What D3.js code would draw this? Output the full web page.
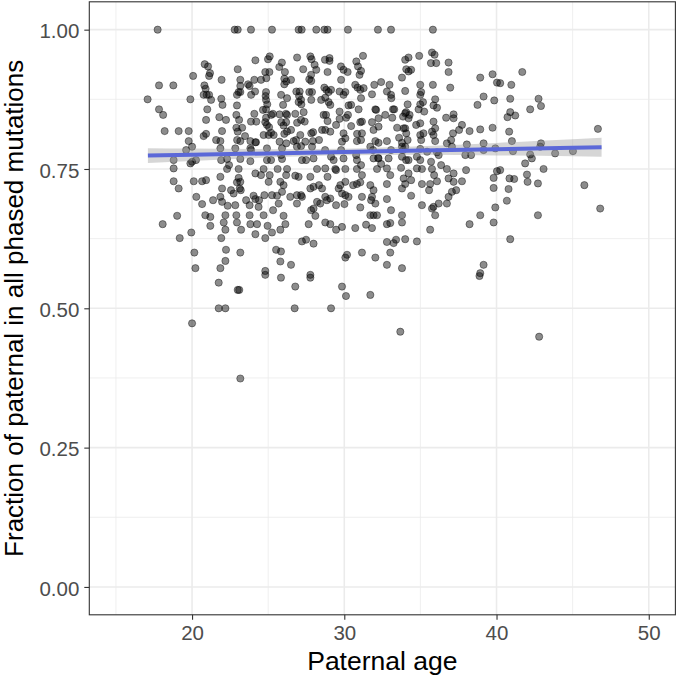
<!DOCTYPE html>
<html>
<head>
<meta charset="utf-8">
<script src="https://cdn.jsdelivr.net/npm/d3@7"></script>
<style>
  body { margin: 0; background: #fff; }
  svg text { font-family: "Liberation Sans", Arial, Helvetica, sans-serif; }
</style>
</head>
<body>
<div id="chart"></div>
<script>
// paternal age (years) of each trio
var paternalAge = [
17.74,22.80,23.00,23.87,25.25,27.00,27.20,28.16,24.16,24.99,25.10,25.90,26.90,27.77,27.85,20.83,21.05,23.00,25.73,27.30,
28.05,28.16,21.18,21.12,20.07,24.81,25.08,24.88,26.10,26.06,27.70,27.83,21.94,23.17,24.09,17.83,18.77,20.81,20.89,23.17,
23.17,23.68,23.78,24.14,24.86,24.83,26.06,26.19,26.85,27.07,27.03,27.70,27.88,27.83,17.08,19.89,20.76,20.96,21.12,21.92,
22.00,22.95,23.06,24.86,24.94,26.24,25.98,27.00,27.18,17.83,18.10,21.00,22.95,21.79,22.91,24.09,23.87,24.22,24.86,24.81,
24.92,25.20,25.31,25.75,25.86,26.01,26.17,26.24,26.78,26.90,27.33,27.40,22.91,23.00,18.20,19.12,19.78,20.92,20.76,21.97,
19.78,21.86,23.17,23.83,24.16,24.70,25.03,25.36,26.06,26.24,25.75,26.19,26.67,27.11,27.44,27.83,27.94,
28.69,28.90,30.24,32.21,33.07,35.82,28.73,29.03,29.03,30.79,30.90,31.23,29.78,29.95,30.22,28.90,31.00,31.10,34.00,34.22,
34.92,35.76,35.93,35.69,36.04,36.85,34.07,34.22,33.79,36.85,38.93,39.74,40.03,28.69,28.82,28.97,29.69,29.95,30.07,30.72,
30.87,31.05,31.27,31.97,31.82,32.97,32.80,33.09,34.00,34.99,34.99,35.82,36.96,28.75,28.97,29.08,30.28,30.94,32.04,32.69,
33.20,34.16,34.00,34.29,34.99,34.88,35.17,35.25,35.97,36.09,35.86,38.75,39.15,39.85,28.64,28.90,28.75,29.69,29.69,30.24,
31.05,31.16,31.82,32.25,32.25,33.15,33.28,33.86,34.00,34.22,34.99,35.86,35.97,35.76,35.86,37.18,37.18,37.73,38.23,38.93,
39.74,37.14,28.54,29.08,29.95,30.07,29.85,30.83,31.16,31.92,32.04,32.25,32.80,33.90,34.07,34.16,33.79,34.99,35.20,35.97,
36.74,38.05,39.15,
41.69,40.24,40.97,40.90,42.76,42.92,42.21,40.90,40.72,41.23,40.83,46.66,41.01,42.92,
20.00,21.86,22.84,23.83,24.92,25.91,26.89,27.88,18.79,20.00,19.89,22.30,23.17,23.83,24.92,25.91,27.22,27.98,18.79,22.30,
23.06,24.16,24.70,25.10,25.62,26.24,26.78,27.00,27.77,28.21,21.86,23.06,22.95,18.79,19.12,20.11,20.66,25.03,25.80,26.01,
25.91,25.58,23.17,23.13,21.97,21.86,21.97,22.34,20.28,20.66,24.04,24.16,24.75,25.25,25.69,26.45,26.89,27.22,26.89,27.77,
27.98,28.21,22.73,23.20,22.84,23.78,24.37,19.02,20.87,21.20,22.19,22.91,23.78,24.70,26.01,18.07,21.20,22.08,22.19,22.95,
23.83,24.27,24.96,25.25,25.80,26.13,27.66,28.10,27.98,19.19,19.95,21.92,24.16,24.81,27.22,27.98,20.15,23.17,25.84,25.80,
22.19,21.86,20.22,24.81,27.77,
31.71,33.79,34.00,34.99,36.09,37.07,37.95,39.15,39.92,29.30,29.95,30.83,31.92,32.25,32.91,33.79,34.22,34.77,34.99,36.20,
28.75,28.90,29.41,30.07,30.83,31.16,32.15,32.80,33.02,33.90,34.22,34.77,35.10,35.76,36.74,37.18,37.73,39.81,40.03,29.74,
30.07,30.83,31.05,31.71,32.80,34.00,33.79,35.10,35.64,36.09,36.85,37.18,39.81,28.54,28.75,29.08,29.63,29.85,30.07,30.28,
31.16,31.92,31.82,32.04,32.80,35.10,35.86,36.20,36.74,36.85,37.07,39.92,28.42,28.86,30.01,31.05,31.71,31.92,32.15,33.79,
35.76,35.97,38.93,39.81,28.75,29.08,29.85,30.72,31.82,32.80,33.02,33.79,35.64,38.23,32.80,33.24,34.00,34.77,31.16,30.07,
30.18,32.04,33.02,32.80,33.79,39.15,38.93,
41.08,42.21,42.32,42.87,43.85,45.02,41.88,43.09,40.24,42.00,40.85,41.16,42.04,42.72,40.79,40.68,42.72,40.90,45.77,46.81,
21.75,23.00,23.10,21.75,22.19,20.00,23.17,25.84,26.78,26.74,27.77,24.81,29.85,30.11,31.71,29.13,33.68,38.88,42.80
];

// fraction of paternal among phased mutations, same order as paternalAge
var paternalFrac = [
1.000,1.000,1.000,1.000,1.000,1.000,1.000,1.000,0.945,0.947,0.952,0.941,0.950,0.952,0.947,0.938,0.934,0.929,0.933,0.929,
0.937,0.928,0.922,0.917,0.917,0.924,0.924,0.913,0.924,0.912,0.911,0.908,0.910,0.910,0.910,0.900,0.900,0.900,0.894,0.899,
0.888,0.902,0.899,0.889,0.888,0.881,0.902,0.907,0.889,0.889,0.881,0.888,0.888,0.874,0.875,0.875,0.883,0.883,0.883,0.876,
0.865,0.883,0.888,0.874,0.866,0.877,0.865,0.870,0.866,0.857,0.847,0.857,0.864,0.843,0.847,0.849,0.835,0.835,0.857,0.834,
0.829,0.847,0.849,0.848,0.834,0.828,0.849,0.847,0.849,0.833,0.852,0.835,0.824,0.817,0.818,0.818,0.818,0.813,0.809,0.818,
0.800,0.800,0.800,0.800,0.798,0.811,0.811,0.811,0.813,0.817,0.799,0.796,0.800,0.811,0.799,0.814,0.800,
1.000,1.000,1.000,1.000,1.000,1.000,0.946,0.949,0.944,0.943,0.934,0.953,0.934,0.928,0.924,0.924,0.919,0.926,0.946,0.950,
0.953,0.959,0.955,0.940,0.940,0.941,0.929,0.925,0.914,0.924,0.914,0.920,0.905,0.896,0.892,0.888,0.889,0.883,0.888,0.901,
0.896,0.892,0.895,0.901,0.884,0.901,0.889,0.877,0.890,0.901,0.883,0.901,0.896,0.878,0.870,0.865,0.864,0.857,0.857,0.847,
0.857,0.866,0.850,0.847,0.866,0.857,0.870,0.853,0.875,0.860,0.864,0.865,0.880,0.873,0.847,0.836,0.820,0.853,0.840,0.847,
0.834,0.835,0.834,0.841,0.826,0.842,0.857,0.844,0.823,0.841,0.832,0.835,0.823,0.817,0.811,0.848,0.841,0.829,0.818,0.821,
0.824,0.814,0.820,0.817,0.814,0.805,0.799,0.800,0.814,0.820,0.800,0.797,0.800,0.823,0.814,0.802,0.797,0.811,0.814,0.800,
0.796,0.794,0.796,
0.924,0.904,0.901,0.876,0.876,0.863,0.857,0.852,0.843,0.846,0.817,0.822,0.800,0.796,
0.790,0.787,0.787,0.787,0.787,0.787,0.790,0.790,0.766,0.763,0.760,0.768,0.768,0.764,0.766,0.768,0.766,0.769,0.751,0.750,
0.750,0.742,0.750,0.739,0.750,0.750,0.738,0.736,0.736,0.750,0.736,0.734,0.726,0.728,0.715,0.728,0.728,0.727,0.727,0.721,
0.709,0.702,0.727,0.715,0.715,0.700,0.691,0.684,0.700,0.687,0.702,0.696,0.703,0.703,0.688,0.700,0.703,0.700,0.688,0.715,
0.718,0.691,0.706,0.712,0.685,0.685,0.682,0.666,0.667,0.664,0.667,0.667,0.667,0.667,0.666,0.651,0.648,0.654,0.641,0.654,
0.651,0.651,0.648,0.636,0.641,0.651,0.651,0.666,0.679,0.626,0.636,0.626,0.633,0.626,0.620,0.616,0.600,0.600,0.602,0.584,
0.585,0.572,0.572,0.567,0.560,
0.790,0.790,0.790,0.786,0.780,0.790,0.775,0.784,0.787,0.766,0.769,0.766,0.769,0.769,0.769,0.772,0.766,0.772,0.766,0.775,
0.751,0.736,0.750,0.750,0.750,0.739,0.750,0.751,0.739,0.733,0.742,0.751,0.750,0.750,0.750,0.742,0.728,0.734,0.746,0.721,
0.727,0.723,0.726,0.721,0.723,0.723,0.715,0.723,0.723,0.728,0.733,0.727,0.716,0.715,0.700,0.697,0.715,0.706,0.703,0.700,
0.700,0.712,0.700,0.688,0.696,0.685,0.682,0.688,0.688,0.700,0.709,0.681,0.688,0.694,0.687,0.681,0.667,0.667,0.667,0.667,
0.679,0.667,0.667,0.654,0.654,0.651,0.646,0.644,0.644,0.651,0.653,0.654,0.641,0.651,0.619,0.617,0.624,0.620,0.600,0.591,
0.596,0.591,0.600,0.578,0.572,0.578,0.563,
0.782,0.776,0.769,0.790,0.778,0.782,0.760,0.750,0.748,0.740,0.733,0.732,0.727,0.724,0.714,0.693,0.667,0.624,0.721,0.679,
0.546,0.533,0.533,0.500,0.500,0.473,0.374,0.555,0.539,0.500,0.555,0.560,0.539,0.522,0.524,0.500,0.458,0.558,0.449
];

// points hidden in the darkest overlaps of the core, estimated
var denseAge = [
23.09,23.29,23.48,22.96,24.66,24.86,25.06,25.19,26.18,26.50,26.83,27.16,27.95,28.34,28.74,29.13,30.12,30.45,30.84,31.10,
31.89,32.22,32.42,33.47,33.60,33.86,34.06,33.73,35.44,35.70,35.90,35.57,21.91,22.43,23.88,24.20,25.85,27.49,29.79,31.10,
33.07,34.39,35.05,36.36,24.40,25.32,27.16,28.34,29.46,30.58,31.76,33.07,34.39,22.56,23.55,24.53,26.18,27.82,23.22,25.52,
27.49,29.46,31.43,33.40,22.23,26.50,23.88,25.85,27.16,29.13,31.10,33.07,35.05,24.53,27.82,29.79,32.42,34.39,22.23,21.58,
20.92,21.25,30.45,32.09,34.06,34.72,36.69,37.02,37.54,38.00,38.33,37.35,27.16,28.80,29.46,26.50,28.48,25.19,29.46,30.78,
20.92,21.38,20.26,19.61
];
var denseFrac = [
0.838,0.824,0.809,0.802,0.856,0.842,0.825,0.815,0.834,0.820,0.802,0.791,0.816,0.802,0.784,0.772,0.842,0.827,0.813,0.802,
0.784,0.770,0.759,0.824,0.806,0.784,0.766,0.752,0.781,0.763,0.739,0.712,0.766,0.757,0.784,0.798,0.775,0.766,0.784,0.757,
0.784,0.730,0.802,0.757,0.694,0.676,0.703,0.721,0.685,0.721,0.694,0.676,0.702,0.712,0.694,0.739,0.739,0.676,0.641,0.605,
0.623,0.641,0.650,0.623,0.605,0.578,0.883,0.883,0.874,0.892,0.877,0.883,0.888,0.910,0.919,0.910,0.906,0.928,0.838,0.802,
0.838,0.874,0.865,0.856,0.852,0.829,0.842,0.802,0.820,0.748,0.775,0.712,0.838,0.847,0.829,0.910,0.874,0.766,0.748,0.775,
0.730,0.694,0.766,0.784
];

// linear fit and its confidence band
var fitAge  = [17.1, 20, 25, 30, 35, 40, 45, 46.9];
var fitMid  = [0.7740, 0.7755, 0.7780, 0.7805, 0.7830, 0.7855, 0.7880, 0.7890];
var fitLow  = [0.7606, 0.7643, 0.7704, 0.7745, 0.7754, 0.7743, 0.7727, 0.7720];
var fitHigh = [0.7874, 0.7867, 0.7856, 0.7865, 0.7906, 0.7967, 0.8033, 0.8060];

var xTicks = [20, 30, 40, 50], xMinor = [15, 25, 35, 45];
var yTicks = [0, 0.25, 0.5, 0.75, 1], yMinor = [0.125, 0.375, 0.625, 0.875];

var W = 677, H = 678;
var margin = {top: 1.8, right: 1.6, bottom: 63.2, left: 89.3};
var width = W - margin.left - margin.right,
    height = H - margin.top - margin.bottom;

var allAge = paternalAge.concat(denseAge),
    allFrac = paternalFrac.concat(denseFrac);

var svg = d3.select("#chart").append("svg")
  .attr("width", W).attr("height", H);

var g = svg.append("g")
  .attr("transform", "translate(" + margin.left + "," + margin.top + ")");

var xScale = d3.scaleLinear().domain([13.25, 51.75]).range([0, width]);
var yScale = d3.scaleLinear().domain([-0.05, 1.05]).range([height, 0]);

// grid
g.selectAll(".xminor").data(xMinor).enter().append("line")
  .attr("x1", xScale).attr("x2", xScale).attr("y1", 0).attr("y2", height)
  .attr("stroke", "#EBEBEB").attr("stroke-width", 0.8);
g.selectAll(".yminor").data(yMinor).enter().append("line")
  .attr("y1", yScale).attr("y2", yScale).attr("x1", 0).attr("x2", width)
  .attr("stroke", "#EBEBEB").attr("stroke-width", 0.8);
g.selectAll(".xmajor").data(xTicks).enter().append("line")
  .attr("x1", xScale).attr("x2", xScale).attr("y1", 0).attr("y2", height)
  .attr("stroke", "#EBEBEB").attr("stroke-width", 1.6);
g.selectAll(".ymajor").data(yTicks).enter().append("line")
  .attr("y1", yScale).attr("y2", yScale).attr("x1", 0).attr("x2", width)
  .attr("stroke", "#EBEBEB").attr("stroke-width", 1.6);

// points
g.append("g").selectAll("circle")
  .data(allAge)
  .enter().append("circle")
  .attr("cx", function (d) { return xScale(d); })
  .attr("cy", function (d, i) { return yScale(allFrac[i]); })
  .attr("r", 3.6)
  .attr("fill", "#000").attr("fill-opacity", 0.45)
  .attr("stroke", "#000").attr("stroke-opacity", 0.4).attr("stroke-width", 1);

// confidence band + fit line
var fitIdx = d3.range(fitAge.length);
var band = d3.area()
  .x(function (i) { return xScale(fitAge[i]); })
  .y0(function (i) { return yScale(fitLow[i]); })
  .y1(function (i) { return yScale(fitHigh[i]); })
  .curve(d3.curveMonotoneX);
g.append("path").datum(fitIdx)
  .attr("d", band)
  .attr("fill", "#999999").attr("fill-opacity", 0.4);

var fitLine = d3.line()
  .x(function (i) { return xScale(fitAge[i]); })
  .y(function (i) { return yScale(fitMid[i]); });
g.append("path").datum(fitIdx)
  .attr("d", fitLine)
  .attr("fill", "none").attr("stroke", "#5B68D8").attr("stroke-width", 4);

// panel border
g.append("rect")
  .attr("width", width).attr("height", height)
  .attr("fill", "none").attr("stroke", "#333333").attr("stroke-width", 1.1);

// axes
var xAxis = d3.axisBottom(xScale).tickValues(xTicks).tickSize(5).tickPadding(6)
  .tickFormat(d3.format("d"));
var yAxis = d3.axisLeft(yScale).tickValues(yTicks).tickSize(5).tickPadding(5)
  .tickFormat(d3.format(".2f"));

var gx = g.append("g").attr("transform", "translate(0," + height + ")").call(xAxis);
var gy = g.append("g").call(yAxis);
[gx, gy].forEach(function (a) {
  a.select(".domain").remove();
  a.selectAll(".tick line").attr("stroke", "#333333").attr("stroke-width", 1.1);
  a.selectAll(".tick text")
    .attr("fill", "#4D4D4D")
    .style("font-size", "20.5px")
    .style("font-family", "'Liberation Sans', Arial, sans-serif");
});
gx.selectAll(".tick text").attr("dy", "0.71em");
gy.selectAll(".tick text").attr("dy", "0.4em");

// axis titles
svg.append("text")
  .attr("x", margin.left + width / 2)
  .attr("y", 670)
  .attr("text-anchor", "middle")
  .style("font-size", "26.5px")
  .attr("fill", "#000")
  .text("Paternal age");

svg.append("text")
  .attr("transform", "translate(23," + (margin.top + height / 2) + ") rotate(-90)")
  .attr("text-anchor", "middle")
  .style("font-size", "26px")
  .attr("fill", "#000")
  .text("Fraction of paternal in all phased mutations");
</script>
</body>
</html>
